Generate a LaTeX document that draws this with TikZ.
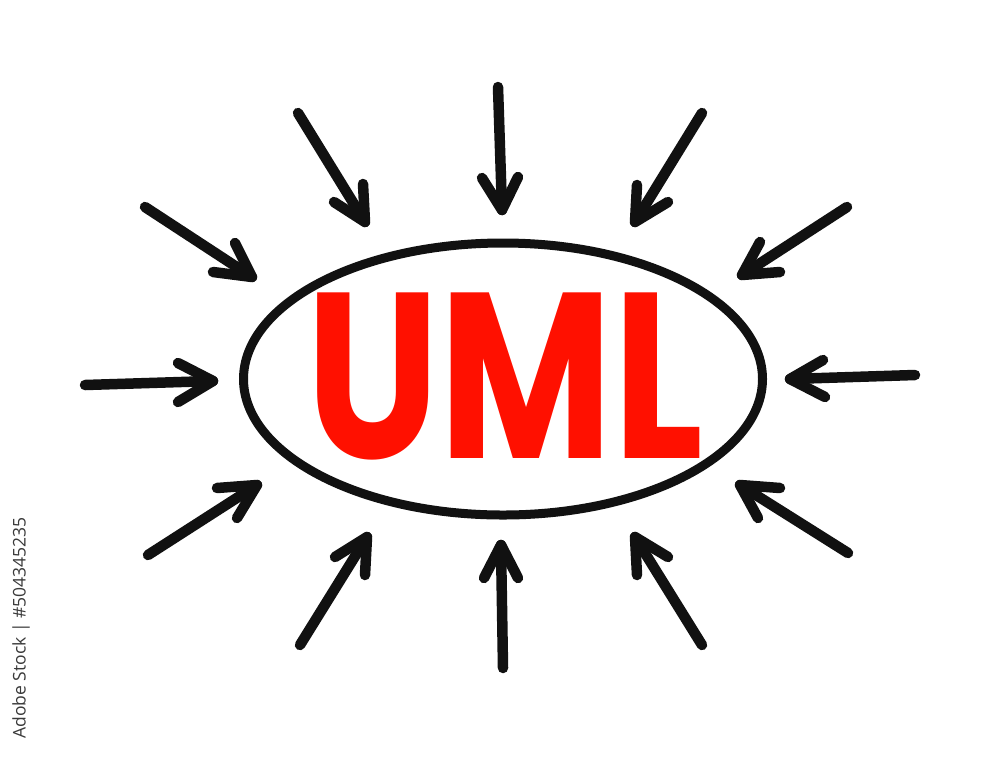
\documentclass[tikz,border=0pt]{standalone}
\usepackage{fontspec}
\usetikzlibrary{shapes.geometric}
\newfontfamily\umlfont{Poppins}[UprightFont=*-Bold]
\newfontfamily\stockfont{Open Sans}
\definecolor{ink}{HTML}{111111}
\definecolor{umlred}{HTML}{FF1000}
\definecolor{stockgray}{HTML}{3A3A3A}
\begin{document}
\begin{tikzpicture}[x=1pt,y=-1pt,
  shaft/.style={draw=ink,line width=10.5pt,line cap=round},
  barbs/.style={draw=ink,line width=10.5pt,line cap=round,line join=round},
  ring/.style={draw=ink,line width=9pt},
  title/.style={text=umlred,font=\umlfont\fontsize{236}{236}\selectfont,inner sep=0pt},
  credit/.style={text=stockgray,font=\stockfont\fontsize{17.5}{17.5}\selectfont,inner sep=0pt}]
\useasboundingbox (0,0) rectangle (1000,756);
\fill[white] (0,0) rectangle (1000,756);

% central ellipse
\node[ring,ellipse,minimum width=519pt,minimum height=272pt,inner sep=0pt] (core) at (503,379) {};
\node[title,xscale=0.8] (label) at (505,376) {UML};

% credit line
\node[credit,rotate=90] (stock) at (21,628) {Adobe Stock | \#504345235};

% arrows: tail, tip, two barbs
\foreach \n/\tx/\ty/\hx/\hy/\ax/\ay/\bx/\by in {
  1/298/113/365/222/363/184/334/202,
  2/498/87/502/210/482/178/518/177,
  3/702/113/635/222/637/185/668/202,
  4/145/207/252/277/235/243/213/272,
  5/85/385/213/381/178/363/178/402,
  6/148/555/257/485/217/488/237/518,
  7/300/645/367/537/335/557/365/575,
  8/503/668/501/545/484/578/518/578,
  9/702/645/635/537/637/575/668/557,
  10/848/553/740/485/780/488/758/518,
  11/847/207/742/275/760/242/780/272,
  12/915/375/790/379/823/360/825/397} {
  \coordinate (tail\n) at (\tx,\ty);
  \coordinate (tip\n) at (\hx,\hy);
  \coordinate (barbA\n) at (\ax,\ay);
  \coordinate (barbB\n) at (\bx,\by);
  \draw[shaft] (tail\n) -- (tip\n);
  \draw[barbs] (barbA\n) -- (tip\n) -- (barbB\n);
}
\end{tikzpicture}
\end{document}
